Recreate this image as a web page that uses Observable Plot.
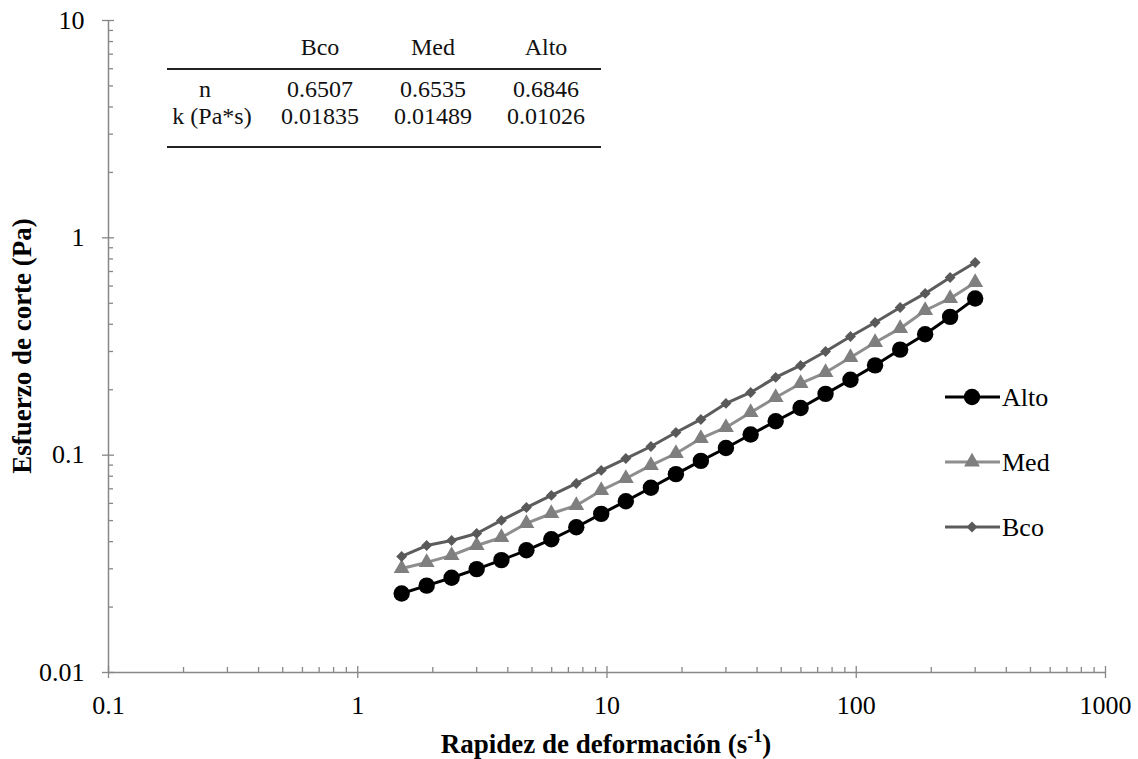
<!DOCTYPE html>
<html><head><meta charset="utf-8">
<script src="https://cdn.jsdelivr.net/npm/d3@7"></script>
<script src="https://cdn.jsdelivr.net/npm/@observablehq/plot@0.6"></script>
<style>
body{margin:0;background:#fff;}
#chart{position:relative;width:1138px;height:759px;}
</style></head><body><div id="chart"></div>
<script>
// Shear rate (s^-1)
const gamma = [1.5, 1.89, 2.38, 3.0, 3.77, 4.75, 5.98, 7.53, 9.48, 11.9, 15.0, 18.9, 23.8, 30.0, 37.7, 47.5, 59.8, 75.3, 94.8, 119, 150, 189, 238, 300];
// Shear stress (Pa)
const alto = [0.0231, 0.0251, 0.0273, 0.0299, 0.0329, 0.0365, 0.0410, 0.0466, 0.0537, 0.0614, 0.0708, 0.0818, 0.0941, 0.1079, 0.1245, 0.1432, 0.1647, 0.1915, 0.2225, 0.2590, 0.3060, 0.3600, 0.4330, 0.5260];
const med  = [0.0301, 0.0321, 0.0346, 0.0384, 0.0418, 0.0485, 0.0539, 0.0587, 0.0688, 0.0781, 0.0897, 0.1018, 0.1194, 0.1341, 0.1573, 0.1843, 0.2138, 0.2400, 0.2816, 0.3300, 0.3830, 0.4630, 0.5260, 0.6230];
const bco  = [0.0342, 0.0384, 0.0405, 0.0436, 0.0501, 0.0574, 0.0653, 0.0741, 0.0851, 0.0965, 0.1096, 0.1272, 0.1460, 0.1730, 0.1943, 0.2280, 0.2587, 0.3000, 0.3518, 0.4080, 0.4780, 0.5550, 0.6570, 0.7700];

const seriesNames = ["Alto", "Med", "Bco"];
const xMajor = [0.1, 1, 10, 100, 1000];
const yMajor = [0.01, 0.1, 1, 10];
const minorSteps = [2, 3, 4, 5, 6, 7, 8, 9];

const tableHeader = ["Bco", "Med", "Alto"];
const tableRowLabels = ["n", "k (Pa*s)"];
const tableN = ["0.6507", "0.6535", "0.6846"];
const tableK = ["0.01835", "0.01489", "0.01026"];

const values = {Alto: alto, Med: med, Bco: bco};
const styles = {
  Alto: {line: "#000000", fill: "#000000", symbol: "circle", r: 8.2},
  Med:  {line: "#8e8e8e", fill: "#7f7f7f", symbol: "triangle", r: 5.9},
  Bco:  {line: "#5c5c5c", fill: "#595959", symbol: "diamond2", r: 4.9}
};
const rows = s => gamma.map((g, i) => ({g, v: values[s][i], s}));

const xMinor = xMajor.slice(0, -1).flatMap(m => minorSteps.map(k => m * k));
const yMinor = yMajor.slice(0, -1).flatMap(m => minorSteps.map(k => m * k));
const gray = "#878787";
const serif = "'Liberation Serif', 'Times New Roman', serif";
const fmt = d => String(+d.toPrecision(3));
const tickFont = 26;

const seriesMarks = ["Alto", "Med", "Bco"].flatMap(s => [
  Plot.line(rows(s), {x: "g", y: "v", stroke: styles[s].line, strokeWidth: 3}),
  Plot.dot(rows(s), {x: "g", y: "v", symbol: styles[s].symbol, r: styles[s].r, fill: styles[s].fill, stroke: "none"})
]);

const plot = Plot.plot({
  width: 1138, height: 759,
  marginLeft: 108, marginRight: 33, marginTop: 20, marginBottom: 87,
  x: {type: "log", domain: [0.1, 1000]},
  y: {type: "log", domain: [0.01, 10]},
  style: {fontFamily: serif, fontSize: tickFont + "px", color: "#000", background: "#fff", overflow: "visible"},
  marks: [
    Plot.ruleY([0.01], {stroke: gray, strokeWidth: 1.5}),
    Plot.ruleX([0.1], {stroke: gray, strokeWidth: 1.5}),
    Plot.axisX(xMinor, {tickSize: -5, tickFormat: () => "", stroke: gray, strokeWidth: 1.3, label: null}),
    Plot.axisX(xMajor, {tickSize: -6, tickFormat: () => "", stroke: gray, strokeWidth: 1.3, label: null}),
    Plot.axisX(xMajor, {tickSize: 6, tickPadding: 17, tickFormat: fmt, stroke: gray, strokeWidth: 1.3, fill: "#000", fontSize: tickFont, label: null}),
    Plot.axisY(yMinor, {tickSize: -5, tickFormat: () => "", stroke: gray, strokeWidth: 1.3, label: null}),
    Plot.axisY(yMajor, {tickSize: -6, tickFormat: () => "", stroke: gray, strokeWidth: 1.3, label: null}),
    Plot.axisY(yMajor, {tickSize: 6, tickPadding: 18, tickFormat: fmt, stroke: gray, strokeWidth: 1.3, fill: "#000", fontSize: tickFont, label: null}),
    ...seriesMarks
  ]
});

document.getElementById("chart").appendChild(plot);
const svg = d3.select(plot);

// Y axis title
svg.append("text")
  .attr("transform", "translate(31,346) rotate(-90)")
  .attr("text-anchor", "middle")
  .attr("font-family", serif).attr("font-size", 27).attr("font-weight", "bold").attr("fill", "#000")
  .text("Esfuerzo de corte (Pa)");

// X axis title with superscript
const xt = svg.append("text")
  .attr("x", 606).attr("y", 753)
  .attr("text-anchor", "middle")
  .attr("font-family", serif).attr("font-size", 27).attr("font-weight", "bold").attr("fill", "#000");
xt.append("tspan").text("Rapidez de deformación (s");
xt.append("tspan").attr("font-size", 18).attr("dy", -11).text("-1");
xt.append("tspan").attr("dy", 11).text(")");

// Legend
const legendY = [397, 462, 527];
const sym = {circle: d3.symbolCircle, triangle: d3.symbolTriangle, diamond2: d3.symbolDiamond2};
seriesNames.forEach((s, i) => {
  const g = svg.append("g").attr("transform", `translate(0,${legendY[i]})`);
  g.append("line").attr("x1", 945).attr("x2", 1000).attr("y1", 0).attr("y2", 0)
    .attr("stroke", styles[s].line).attr("stroke-width", 3);
  g.append("path").attr("transform", "translate(972,0)")
    .attr("d", d3.symbol(sym[styles[s].symbol], Math.PI * styles[s].r ** 2)())
    .attr("fill", styles[s].fill);
  g.append("text").attr("x", 1002).attr("y", 0).attr("dy", "0.34em")
    .attr("text-anchor", "start")
    .attr("font-family", serif).attr("font-size", 26).attr("fill", "#000").text(s);
});

// Parameters table
const tbl = svg.append("g").attr("font-family", serif).attr("font-size", 24).attr("fill", "#111").attr("text-anchor", "middle");
const colX = [320, 433, 546];
tbl.append("line").attr("x1", 167).attr("x2", 601).attr("y1", 69).attr("y2", 69).attr("stroke", "#222").attr("stroke-width", 2);
tbl.append("line").attr("x1", 167).attr("x2", 601).attr("y1", 147).attr("y2", 147).attr("stroke", "#222").attr("stroke-width", 2);
tableHeader.forEach((h, i) => tbl.append("text").attr("x", colX[i]).attr("y", 55).text(h));
tbl.append("text").attr("x", 205).attr("y", 97).text(tableRowLabels[0]);
tbl.append("text").attr("x", 212).attr("y", 124).text(tableRowLabels[1]);
tableN.forEach((v, i) => tbl.append("text").attr("x", colX[i]).attr("y", 97).text(v));
tableK.forEach((v, i) => tbl.append("text").attr("x", colX[i]).attr("y", 124).text(v));
</script></body></html>
